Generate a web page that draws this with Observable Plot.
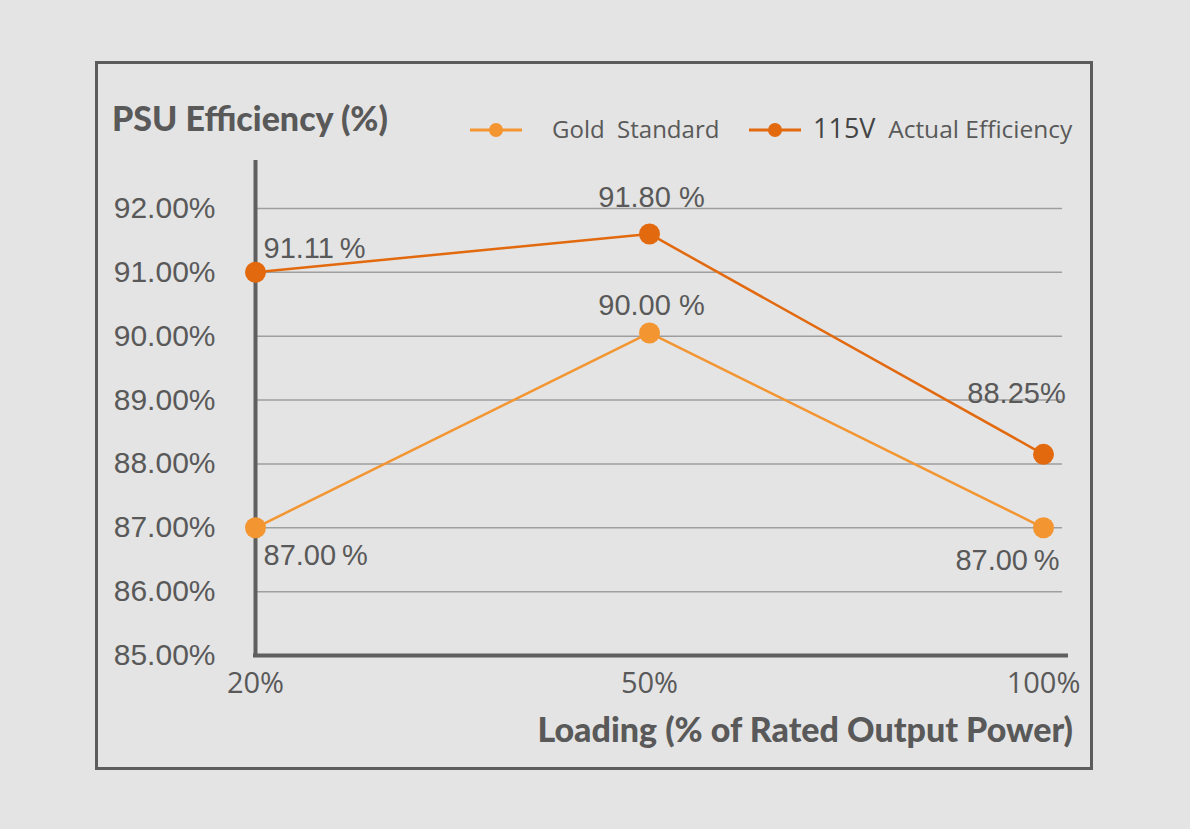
<!DOCTYPE html>
<html>
<head>
<meta charset="utf-8">
<script src="https://cdn.jsdelivr.net/npm/d3@7"></script>
<script src="https://cdn.jsdelivr.net/npm/@observablehq/plot@0.6"></script>
<style>
  html, body { margin: 0; padding: 0; background: #e4e4e4; }
  body { width: 1190px; height: 829px; position: relative; overflow: hidden; }
  #border { position: absolute; left: 95px; top: 61px; width: 998px; height: 709px;
            box-sizing: border-box; border: 3px solid #5c5c5c; }
  #chart { position: absolute; left: 0; top: 0; }
  #overlay { position: absolute; left: 0; top: 0; pointer-events: none; }
  .ttl { font-family: Lato, sans-serif; font-weight: 900; fill: #595959; }
  .leg { font-family: "Open Sans", sans-serif; fill: #595959; }
</style>
</head>
<body>
<div id="border"></div>
<div id="chart"></div>
<svg id="overlay" width="1190" height="829">
  <text class="ttl" x="112" y="131" font-size="34">PSU Efficiency (%)</text>
  <text class="ttl" x="1073" y="742" font-size="34" text-anchor="end">Loading (% of Rated Output Power)</text>
  <line x1="470" x2="522" y1="130" y2="130" stroke="#f39530" stroke-width="3"/>
  <circle cx="496" cy="130" r="7" fill="#f39530"/>
  <text class="leg" x="552" y="138" font-size="24" xml:space="preserve">Gold  Standard</text>
  <line x1="749" x2="801" y1="130" y2="130" stroke="#e2690e" stroke-width="3"/>
  <circle cx="775" cy="130" r="7" fill="#e2690e"/>
  <text class="leg" x="813" y="138" font-size="24.5" xml:space="preserve"><tspan font-size="27" fill="#444">115V</tspan>  Actual Efficiency</text>
</svg>
<script>
const loads = ["20%", "50%", "100%"];
const goldValues = [87.0, 90.05, 87.0];
const actualValues = [91.0, 91.6, 88.15];
const goldLabels = ["87.00\u2009%", "90.00 %", "87.00\u2009%"];
const actualLabels = ["91.11\u2009%", "91.80 %", "88.25%"];
const yTicks = [85, 86, 87, 88, 89, 90, 91, 92];

const GOLD = "#f39530";
const ACT = "#e2690e";
const TXT = "#595959";

const gold = loads.map((l, i) => ({load: l, value: goldValues[i], label: goldLabels[i]}));
const actual = loads.map((l, i) => ({load: l, value: actualValues[i], label: actualLabels[i]}));

function label(arr, i, opts) {
  return Plot.text([arr[i]], Object.assign({
    x: "load", y: "value", text: "label",
    fontSize: 29, fill: TXT, fontFamily: "Liberation Sans, Arial, sans-serif"
  }, opts));
}

const chart = Plot.plot({
  width: 1190,
  height: 829,
  marginLeft: 255,
  marginRight: 147,
  marginTop: 160,
  marginBottom: 174,
  style: {background: "transparent", color: TXT},
  x: {type: "point", domain: loads, padding: 0, label: null},
  y: {domain: [85, 92.75], label: null},
  marks: [
    Plot.ruleY(yTicks.slice(1), {stroke: "#9e9e9e", strokeWidth: 1.5, insetRight: -19, insetLeft: 2}),
    Plot.axisY({ticks: yTicks, tickFormat: d => d.toFixed(2) + "%", tickSize: 0, tickPadding: 40,
      fontSize: 30, fontFamily: "Liberation Sans, Arial, sans-serif", fill: TXT, label: null}),
    Plot.axisX({tickSize: 0, tickPadding: 17, fontSize: 29, fontFamily: "Open Sans, sans-serif", fill: TXT, label: null}),
    Plot.ruleY([85], {stroke: "#5f5f5f", strokeWidth: 4, insetRight: -25, insetLeft: -2}),
    Plot.ruleX([loads[0]], {stroke: "#5f5f5f", strokeWidth: 4, insetBottom: -2}),
    Plot.line(gold, {x: "load", y: "value", stroke: GOLD, strokeWidth: 2.5}),
    Plot.line(actual, {x: "load", y: "value", stroke: ACT, strokeWidth: 2.5}),
    Plot.dot(gold, {x: "load", y: "value", r: 10.5, fill: GOLD}),
    Plot.dot(actual, {x: "load", y: "value", r: 10.5, fill: ACT}),
    label(actual, 0, {textAnchor: "start", dx: 8, dy: -24}),
    label(actual, 1, {dx: 2, dy: -36}),
    label(actual, 2, {dx: -27, dy: -61}),
    label(gold, 0, {textAnchor: "start", dx: 8, dy: 28}),
    label(gold, 1, {dx: 2, dy: -27}),
    label(gold, 2, {dx: -36, dy: 33})
  ]
});
document.getElementById("chart").appendChild(chart);
</script>
</body>
</html>
